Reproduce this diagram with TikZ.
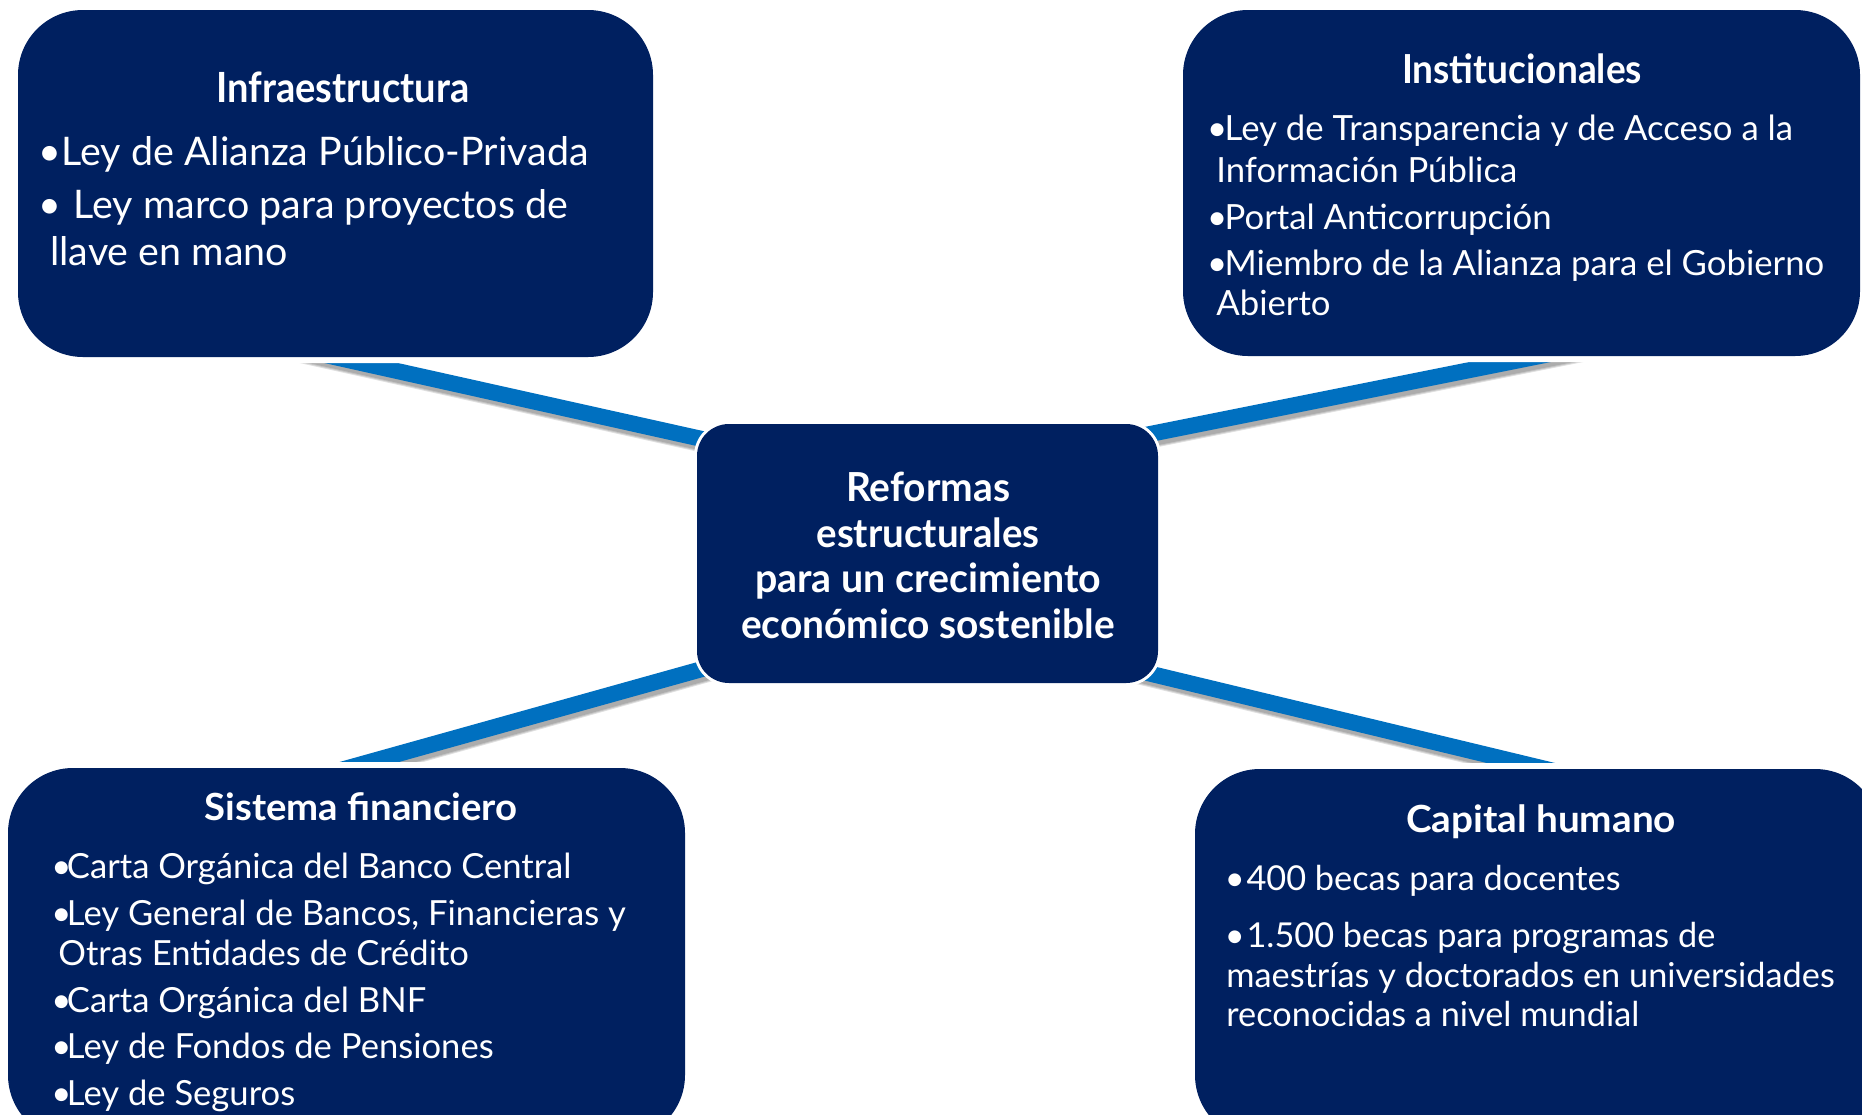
\documentclass[tikz,border=0pt]{standalone}
\usepackage{graphicx}
\usepackage{fontspec}
\setmainfont{Lato}
\usetikzlibrary{backgrounds}
\pgfdeclarelayer{bottom}
\pgfsetlayers{bottom,background,main}
\definecolor{navy}{HTML}{002060}
\definecolor{linkblue}{HTML}{0070C0}
\newcommand{\fsz}[1]{\fontsize{#1}{1.15\dimexpr#1\relax}\selectfont}
\begin{document}
\begin{tikzpicture}[x=0.5pt,y=-0.5pt,
  box/.style={fill=navy, rounded corners=32.5pt, inner sep=0pt, outer sep=0pt,
              preaction={draw=white, line width=6pt}},
  hub/.style={fill=navy, rounded corners=16pt, inner sep=0pt, outer sep=0pt,
              preaction={draw=white, line width=3pt}},
  ttl/.style={anchor=base, text=white, inner sep=0pt},
  txt/.style={anchor=base west, text=white, inner sep=0pt},
  link/.style={draw=linkblue, line width=8pt},
  linkshadow/.style={draw=black, opacity=0.12, line width=#1,
                     transform canvas={shift={(1.2pt,-2pt)}}}]
\useasboundingbox (0,0) rectangle (1862,1114);
\clip (0,0) rectangle (1862,1114);
\begin{pgfonlayer}{bottom}
\fill[white] (0,0) rectangle (1862,1114);
\end{pgfonlayer}

% boxes
\node[box, minimum width=317.5pt, minimum height=173.5pt] (tl) at (335.5,183.5) {};
\node[box, minimum width=338.5pt, minimum height=173pt] (tr) at (1521.5,183) {};
\node[hub, minimum width=230.5pt, minimum height=129.5pt] (c) at (927.5,553.5) {};
\node[box, minimum width=338.5pt, minimum height=186pt] (bl) at (346.5,954) {};
\node[box, minimum width=342.5pt, minimum height=185.5pt] (br) at (1537.5,954.5) {};

% connector ends
\coordinate (a1) at (258,340);  \coordinate (b1) at (720,443);
\coordinate (a2) at (1620,340); \coordinate (b2) at (1135,437);
\coordinate (a3) at (269,790);  \coordinate (b3) at (720,664);
\coordinate (a4) at (1633,790); \coordinate (b4) at (1135,670);

\begin{scope}[on background layer]
  \foreach \w in {8pt,9pt,10pt} {
    \draw[linkshadow=\w] (a1) -- (b1);
    \draw[linkshadow=\w] (a2) -- (b2);
    \draw[linkshadow=\w] (a3) -- (b3);
    \draw[linkshadow=\w] (a4) -- (b4);
  }
  \draw[link] (a1) -- (b1);
  \draw[link] (a2) -- (b2);
  \draw[link] (a3) -- (b3);
  \draw[link] (a4) -- (b4);
\end{scope}

% centre
\begin{scope}[every node/.append style={font=\bfseries\fsz{20pt}}]
\node[ttl] (c1) at (928,501) {\resizebox{82pt}{\height}{Reformas}};
\node[ttl] (c2) at (928,547) {\resizebox{111.5pt}{\height}{estructurales}};
\node[ttl] (c3) at (928,592) {\resizebox{173pt}{\height}{para un crecimiento}};
\node[ttl] (c4) at (928,638) {\resizebox{187pt}{\height}{económico sostenible}};
\end{scope}

% Infraestructura
\node[ttl, font=\bfseries\fsz{20.8pt}] (tlt) at (343,102) {\resizebox{126.5pt}{\height}{Infraestructura}};
\begin{scope}[every node/.append style={font=\fsz{19.7pt}}]
\node[txt] (tl1) at (38.5,165) {•Ley de Alianza Público-Privada};
\node[txt] (tl2) at (38.5,218) {•\hspace{0.3em}Ley marco para proyectos de};
\node[txt] (tl3) at (50,265) {llave en mano};
\end{scope}

% Institucionales
\node[ttl, font=\bfseries\fsz{20pt}] (trt) at (1522,83) {\resizebox{120pt}{\height}{Institucionales}};
\begin{scope}[every node/.append style={font=\fsz{17.35pt}}]
\node[txt] (tr1) at (1206.6,140) {•\kern-0.07em Ley de Transparencia y de Acceso a la};
\node[txt] (tr2) at (1216,182) {Información Pública};
\node[txt] (tr3) at (1206.6,229) {•\kern-0.07em Portal Anticorrupción};
\node[txt] (tr4) at (1206.6,275) {•\kern-0.07em Miembro de la Alianza para el Gobierno};
\node[txt] (tr5) at (1216,315) {Abierto};
\end{scope}

% Sistema financiero
\node[ttl, font=\bfseries\fsz{18.7pt}] (blt) at (361,820) {\resizebox{156.5pt}{\height}{Sistema financiero}};
\begin{scope}[every node/.append style={font=\fsz{17.3pt}}]
\node[txt] (bl1) at (51,878) {•\kern-0.13em Carta Orgánica del Banco Central};
\node[txt] (bl2) at (51,925) {•\kern-0.13em Ley General de Bancos, Financieras y};
\node[txt] (bl3) at (58,965) {Otras Entidades de Crédito};
\node[txt] (bl4) at (51,1012) {•\kern-0.13em Carta Orgánica del BNF};
\node[txt] (bl5) at (51,1058) {•\kern-0.13em Ley de Fondos de Pensiones};
\node[txt] (bl6) at (51,1105) {•\kern-0.13em Ley de Seguros};
\end{scope}

% Capital humano
\node[ttl, font=\bfseries\fsz{18.7pt}] (brt) at (1541,832) {\resizebox{135pt}{\height}{Capital humano}};
\begin{scope}[every node/.append style={font=\fsz{17.15pt}}]
\node[txt] (br1) at (1224.5,890) {•\hspace{0.05em}400 becas para docentes};
\node[txt] (br2) at (1224.5,947) {•\hspace{0.05em}1.500 becas para programas de};
\node[txt] (br3) at (1226,987) {maestrías y doctorados en universidades};
\node[txt] (br4) at (1226,1026) {reconocidas a nivel mundial};
\end{scope}
\end{tikzpicture}
\end{document}
